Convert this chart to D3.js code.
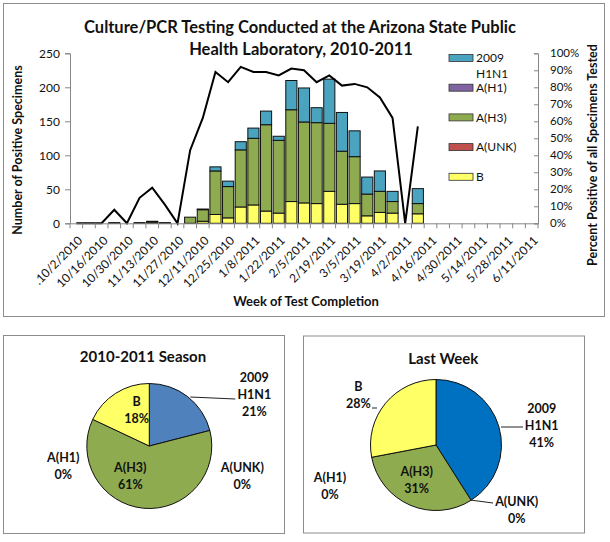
<!DOCTYPE html>
<html>
<head>
<meta charset="utf-8">
<script src="https://cdn.jsdelivr.net/npm/d3@7"></script>
<style>
  body { margin: 0; background: #fff; }
  text { font-family: Lato, 'Liberation Sans', sans-serif; fill: #111; }
</style>
</head>
<body>
<script>
const width = 610
const height = 542

// weekly categories (week of test completion)
const weeks = ['10/2/2010','10/9/2010','10/16/2010','10/23/2010','10/30/2010','11/6/2010',
  '11/13/2010','11/20/2010','11/27/2010','12/4/2010','12/11/2010','12/18/2010','12/25/2010',
  '1/1/2011','1/8/2011','1/15/2011','1/22/2011','1/29/2011','2/5/2011','2/12/2011','2/19/2011',
  '2/26/2011','3/5/2011','3/12/2011','3/19/2011','3/26/2011','4/2/2011','4/9/2011','4/16/2011',
  '4/23/2011','4/30/2011','5/7/2011','5/14/2011','5/21/2011','5/28/2011','6/4/2011','6/11/2011']

// positive specimens per week, by type
const h1n1 = [0,0,0,0,0,0,1,0,0,0,1,6,8,12,15,20,6,43,50,22,65,57,38,25,30,15,0,22]
const aH1  = [0,0,0,0,0,0,0,0,0,0,0,0,0,0,0,0,0,0,0,0,0,0,0,0,0,0,0,0]
const aH3  = [0,0,0,1,0,1,2,1,0,9,17,64,46,84,98,127,107,135,119,119,100,78,69,32,31,17,0,15]
const aUnk = [0,0,0,0,0,0,0,0,0,0,0,0,0,0,0,0,0,0,0,0,0,0,0,0,0,0,0,0]
const fluB = [0,0,0,0,0,0,0,0,0,0,3,13,8,24,27,18,15,32,30,29,47,28,29,11,16,15,0,14]

// percent positive of all specimens tested
const pctPositive = [0,0,0,8,0,15,21,11,0,43,62,89,83,92,89,89,87,91,90,83,87,81,82,80,74,62,0,57]

const yTicks = [0,50,100,150,200,250]
const pctTicks = [0,10,20,30,40,50,60,70,80,90,100]

// pie charts
const pieTypes = ['2009 H1N1','A(UNK)','A(H3)','A(H1)','B']
const seasonPct = [21,0,61,0,18]
const lastWeekPct = [41,0,31,0,28]

const colors = {
  '2009 H1N1': '#4aa3bf',
  'A(H1)': '#8064a2',
  'A(H3)': '#8fab4f',
  'A(UNK)': '#c0504d',
  'B': '#ffff66'
}

const svg = d3.select('body').append('svg')
  .attr('width', width)
  .attr('height', height)

// ---------- top chart ----------
svg.append('rect')
  .attr('x', 3.5).attr('y', 3.5).attr('width', 601).attr('height', 313)
  .attr('fill', '#fff').attr('stroke', '#8c8c8c')

const plot = { left: 70, right: 538, top: 53.3, bottom: 223.3 }

const x = d3.scaleBand()
  .domain(weeks)
  .range([plot.left, plot.right])
  .paddingInner(0.12)
  .paddingOuter(0.06)

const y = d3.scaleLinear().domain([0, 250]).range([plot.bottom, plot.top])
const yPct = d3.scaleLinear().domain([0, 100]).range([plot.bottom, plot.top])

const table = weeks.map((w, i) => ({
  week: w,
  'B': fluB[i] || 0,
  'A(UNK)': aUnk[i] || 0,
  'A(H3)': aH3[i] || 0,
  'A(H1)': aH1[i] || 0,
  '2009 H1N1': h1n1[i] || 0
}))

const stackKeys = ['B','A(UNK)','A(H3)','A(H1)','2009 H1N1']
const series = d3.stack().keys(stackKeys)(table)

svg.append('g').selectAll('g')
  .data(series)
  .join('g')
    .attr('fill', d => colors[d.key])
  .selectAll('rect')
  .data(d => d.filter(s => s[1] - s[0] > 0))
  .join('rect')
    .attr('x', d => x(d.data.week))
    .attr('width', x.bandwidth())
    .attr('y', d => y(d[1]))
    .attr('height', d => y(d[0]) - y(d[1]))
    .attr('stroke', '#111')
    .attr('stroke-width', 1)

// percent positive line
const line = d3.line()
  .defined(d => d != null)
  .x((d, i) => x(weeks[i]) + x.bandwidth() / 2)
  .y(d => yPct(d))

svg.append('path')
  .attr('d', line(weeks.map((w, i) => pctPositive[i] != null ? pctPositive[i] : null)))
  .attr('fill', 'none')
  .attr('stroke', '#000')
  .attr('stroke-width', 2)
  .attr('stroke-linejoin', 'miter')

// left axis
const axisLeft = svg.append('g')
  .attr('transform', 'translate(' + plot.left + ',0)')
  .call(d3.axisLeft(y).tickValues(yTicks).tickSize(5).tickPadding(5))
axisLeft.selectAll('text').attr('font-size', 12).style('fill', '#111')

// right axis
const axisRight = svg.append('g')
  .attr('transform', 'translate(' + plot.right + ',0)')
  .call(d3.axisRight(yPct).tickValues(pctTicks).tickFormat(d => d + '%').tickSize(-4).tickPadding(12))
axisRight.selectAll('text').attr('font-size', 11.5).style('fill', '#111')

// bottom axis: labels every other week, ticks at category boundaries
const axisBottom = svg.append('g')
  .attr('transform', 'translate(0,' + plot.bottom + ')')
  .call(d3.axisBottom(x).tickSize(0).tickFormat((d, i) => i % 2 === 0 ? (i === 0 ? '.' + d : d) : ''))
axisBottom.selectAll('text')
  .attr('font-size', 12)
  .attr('text-anchor', 'end')
  .attr('dy', '0.35em')
  .attr('y', 0)
  .attr('transform', 'translate(4,15) rotate(-45)')
  .style('fill', '#111')

const bounds = weeks.map(w => x(w) - x.step() * x.paddingInner() / 2).concat([plot.right])
svg.append('g').selectAll('line')
  .data(bounds)
  .join('line')
    .attr('x1', d => d).attr('x2', d => d)
    .attr('y1', plot.bottom).attr('y2', plot.bottom + 5)
    .attr('stroke', '#868686')

svg.selectAll('.domain').attr('stroke', '#868686')
svg.selectAll('.tick line').attr('stroke', '#868686')

// titles
const title = svg.append('text')
  .attr('text-anchor', 'middle')
  .attr('font-size', 16.5)
  .attr('font-weight', 'bold')
title.append('tspan').attr('x', 300).attr('y', 32.5).text('Culture/PCR Testing Conducted at the Arizona State Public')
title.append('tspan').attr('x', 301).attr('y', 55).text('Health Laboratory, 2010-2011')

svg.append('text')
  .attr('transform', 'translate(22,150) rotate(-90)')
  .attr('text-anchor', 'middle')
  .attr('font-size', 12.5)
  .attr('font-weight', 'bold')
  .text('Number of Positive Specimens')

svg.append('text')
  .attr('transform', 'translate(597,155) rotate(-90)')
  .attr('text-anchor', 'middle')
  .attr('font-size', 12.5)
  .attr('font-weight', 'bold')
  .text('Percent Positive of all Specimens Tested')

svg.append('text')
  .attr('x', 306).attr('y', 306)
  .attr('text-anchor', 'middle')
  .attr('font-size', 13)
  .attr('font-weight', 'bold')
  .text('Week of Test Completion')

// legend
const legendKeys = ['2009 H1N1','A(H1)','A(H3)','A(UNK)','B']
const legend = svg.append('g').attr('transform', 'translate(449,58)')
legendKeys.forEach((k, i) => {
  const g = legend.append('g').attr('transform', 'translate(0,' + (i * 29.7) + ')')
  g.append('rect')
    .attr('x', 0).attr('y', -3.5).attr('width', 24).attr('height', 7)
    .attr('fill', colors[k]).attr('stroke', '#333').attr('stroke-width', 0.8)
  const parts = k === '2009 H1N1' ? ['2009', 'H1N1'] : [k]
  parts.forEach((p, j) => {
    g.append('text')
      .attr('x', 27).attr('y', j * 16).attr('dy', '0.35em')
      .attr('font-size', 12)
      .text(p)
  })
})

// ---------- pie charts ----------
const pie = d3.pie().sort(null).value(d => d.value)

function drawPie(opts) {
  svg.append('rect')
    .attr('x', opts.box[0]).attr('y', opts.box[1])
    .attr('width', opts.box[2]).attr('height', opts.box[3])
    .attr('fill', '#fff').attr('stroke', '#8c8c8c')

  svg.append('text')
    .attr('x', opts.titlePos[0]).attr('y', opts.titlePos[1])
    .attr('text-anchor', 'middle')
    .attr('font-size', 15)
    .attr('font-weight', 'bold')
    .text(opts.title)

  const data = pieTypes.map((t, i) => ({ type: t, value: opts.values[i] }))
  const arc = d3.arc().innerRadius(0).outerRadius(opts.r)
  const g = svg.append('g').attr('transform', 'translate(' + opts.center + ')')
  g.selectAll('path')
    .data(pie(data).filter(d => d.data.value > 0))
    .join('path')
      .attr('d', arc)
      .attr('fill', d => opts.colors[d.data.type])
      .attr('stroke', '#111')
      .attr('stroke-width', 1)

  data.forEach(d => {
    const pos = opts.labels[d.type]
    const lines = (d.type === '2009 H1N1' ? ['2009', 'H1N1'] : [d.type]).concat([d.value + '%'])
    const t = g.append('text')
      .attr('text-anchor', 'middle')
      .attr('font-size', 12.5)
      .attr('font-weight', 'bold')
    lines.forEach((l, j) => {
      t.append('tspan')
        .attr('x', pos[0]).attr('y', pos[1] + j * 17).attr('dy', '0.35em')
        .text(l)
    })
  })

  opts.leaders.forEach(p => {
    g.append('path')
      .attr('d', d3.line()(p))
      .attr('fill', 'none')
      .attr('stroke', '#222')
      .attr('stroke-width', 1)
  })
}

drawPie({
  title: '2010-2011 Season',
  values: seasonPct,
  box: [3.5, 335.5, 281, 198],
  titlePos: [143, 362],
  center: [149.3, 446],
  r: 62.5,
  colors: Object.assign({}, colors, { '2009 H1N1': '#4f81bd' }),
  labels: {
    '2009 H1N1': [105, -68],
    'A(UNK)': [93, 22],
    'A(H3)': [-19, 22],
    'A(H1)': [-86, 12],
    'B': [-12.6, -44]
  },
  leaders: [[[41, -49], [86, -47]]]
})

drawPie({
  title: 'Last Week',
  values: lastWeekPct,
  box: [303.5, 336, 281, 197],
  titlePos: [443.3, 364],
  center: [436, 445],
  r: 65.5,
  colors: Object.assign({}, colors, { '2009 H1N1': '#0070c0' }),
  labels: {
    '2009 H1N1': [105.7, -36],
    'A(UNK)': [80.7, 57],
    'A(H3)': [-19.3, 27],
    'A(H1)': [-106, 33],
    'B': [-77.7, -58]
  },
  leaders: [[[65, -18], [87, -18]], [[34, 55], [57, 58]], [[-64, -37], [-59, -37]]]
})
</script>
</body>
</html>
